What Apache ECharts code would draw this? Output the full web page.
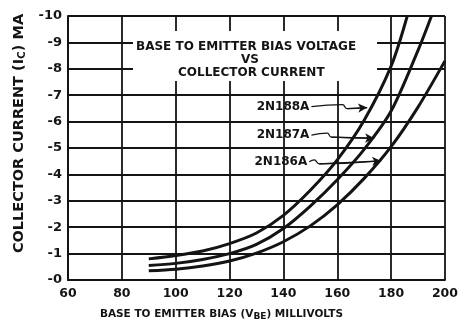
<!DOCTYPE html>
<html>
<head>
<meta charset="utf-8">
<script src="https://cdn.jsdelivr.net/npm/echarts@6/dist/echarts.min.js"></script>
<style>
  html, body { margin: 0; padding: 0; background: #fff; }
  #chart { width: 461px; height: 326px; }
</style>
</head>
<body>
<div id="chart"></div>
<script>
// Base-emitter bias (mV) vs collector current (mA) for three transistors
const mv188 = [90, 100, 110, 120, 130, 140, 150, 160, 170, 180, 186];
const ic188 = [-0.8, -0.93, -1.1, -1.38, -1.78, -2.45, -3.4, -4.55, -6.05, -8.1, -10];
const mv187 = [90, 100, 110, 120, 130, 140, 150, 160, 170, 180, 190, 195];
const ic187 = [-0.55, -0.63, -0.78, -1.0, -1.35, -1.95, -2.8, -3.8, -4.95, -6.4, -8.7, -10];
const mv186 = [90, 100, 110, 120, 130, 140, 150, 160, 170, 180, 190, 200];
const ic186 = [-0.35, -0.41, -0.53, -0.72, -1.02, -1.45, -2.05, -2.85, -3.85, -5.05, -6.55, -8.3];

const names = ['2N188A', '2N187A', '2N186A'];

// leader lines from each type label to its curve (data coordinates)
const lead188 = [[150.4, -6.57], [161.9, -6.64], [163.7, -6.49], [171.1, -6.53]];
const lead187 = [[150.4, -5.49], [156.3, -5.56], [157.8, -5.41], [173.7, -5.37]];
const lead186 = [[149.6, -4.48], [151.5, -4.55], [153.3, -4.40], [176.3, -4.51]];

const xMin = 60, xMax = 200, xStep = 20;
const yMin = -10, yMax = 0, yStep = 1;

const FONT = 'DejaVu Sans';
const INK = '#141414';

const pairs = (xs, ys) => xs.map((x, i) => [x, ys[i]]);

function curve(name, xs, ys) {
  return {
    name: name,
    type: 'line',
    data: pairs(xs, ys),
    smooth: 0.3,
    showSymbol: false,
    clip: true,
    lineStyle: { color: INK, width: 3 },
    z: 5
  };
}

function leader(name, pts) {
  const segA = pts[pts.length - 2], segB = pts[pts.length - 1];
  return {
    name: name + ' label',
    type: 'line',
    data: pts.map((p, i) => i === 0
      ? { value: p, label: { show: true, position: 'left', distance: 2, formatter: name,
          color: INK, fontFamily: FONT, fontWeight: 'bold', fontSize: 12 } }
      : p),
    showSymbol: true,
    symbol: 'circle',
    symbolSize: 0,
    smooth: 0.5,
    lineStyle: { color: INK, width: 1.3 },
    silent: true,
    z: 6,
    markLine: {
      silent: true,
      symbol: ['none', 'arrow'],
      symbolSize: [7, 9],
      lineStyle: { color: INK, width: 1.3, type: 'solid' },
      label: { show: false },
      data: [[{ coord: segA }, { coord: segB }]]
    }
  };
}

const chart = echarts.init(document.getElementById('chart'), null, { renderer: 'canvas' });

chart.setOption({
  backgroundColor: '#fff',
  animation: false,
  grid: { left: 68, right: 13, top: 16, bottom: 42 },
  xAxis: {
    type: 'value',
    min: xMin, max: xMax, interval: xStep,
    axisLine: { show: true, lineStyle: { color: INK, width: 2 } },
    axisTick: { show: false },
    splitLine: { show: true, lineStyle: { color: INK, width: 1.8 } },
    axisLabel: { color: INK, fontFamily: FONT, fontWeight: 'bold', fontSize: 12.5, margin: 7 },
    name: '{t|BASE TO EMITTER BIAS (V}{s|BE}{t|) MILLIVOLTS}',
    nameLocation: 'middle',
    nameGap: 27,
    nameTextStyle: {
      padding: [0, 70, 0, 0],
      rich: {
        t: { color: INK, fontFamily: FONT, fontWeight: 'bold', fontSize: 10.5 },
        s: { color: INK, fontFamily: FONT, fontWeight: 'bold', fontSize: 9, padding: [5, 0, 0, 0] }
      }
    }
  },
  yAxis: {
    type: 'value',
    min: yMin, max: yMax, interval: yStep,
    inverse: true,
    axisLine: { show: true, lineStyle: { color: INK, width: 2 } },
    axisTick: { show: false },
    splitLine: { show: true, lineStyle: { color: INK, width: 1.8 } },
    axisLabel: {
      color: INK, fontFamily: FONT, fontWeight: 'bold', fontSize: 13, margin: 6,
      formatter: v => '-' + Math.abs(v)
    },
    name: '{t|COLLECTOR CURRENT (I}{s|C}{t|) MA}',
    nameLocation: 'middle',
    nameGap: 34,
    nameRotate: 90,
    nameTextStyle: {
      padding: [0, 0, 0, 29],
      rich: {
        t: { color: INK, fontFamily: FONT, fontWeight: 'bold', fontSize: 14.5 },
        s: { color: INK, fontFamily: FONT, fontWeight: 'bold', fontSize: 10.5, padding: [6, 0, 0, 0] }
      }
    }
  },
  graphic: [
    {
      type: 'rect', left: 133, top: 31, z: 10,
      shape: { width: 244, height: 50 },
      style: { fill: '#fff' }
    },
    {
      type: 'text', left: 136, top: 41, z: 11,
      style: { text: 'BASE TO EMITTER BIAS VOLTAGE', fill: INK, font: 'bold 12px "DejaVu Sans"' }
    },
    {
      type: 'text', left: 241, top: 54, z: 11,
      style: { text: 'VS', fill: INK, font: 'bold 12px "DejaVu Sans"' }
    },
    {
      type: 'text', left: 178, top: 67, z: 11,
      style: { text: 'COLLECTOR CURRENT', fill: INK, font: 'bold 12px "DejaVu Sans"' }
    }
  ],
  series: [
    curve(names[0], mv188, ic188),
    curve(names[1], mv187, ic187),
    curve(names[2], mv186, ic186),
    leader(names[0], lead188),
    leader(names[1], lead187),
    leader(names[2], lead186)
  ]
});
</script>
</body>
</html>
